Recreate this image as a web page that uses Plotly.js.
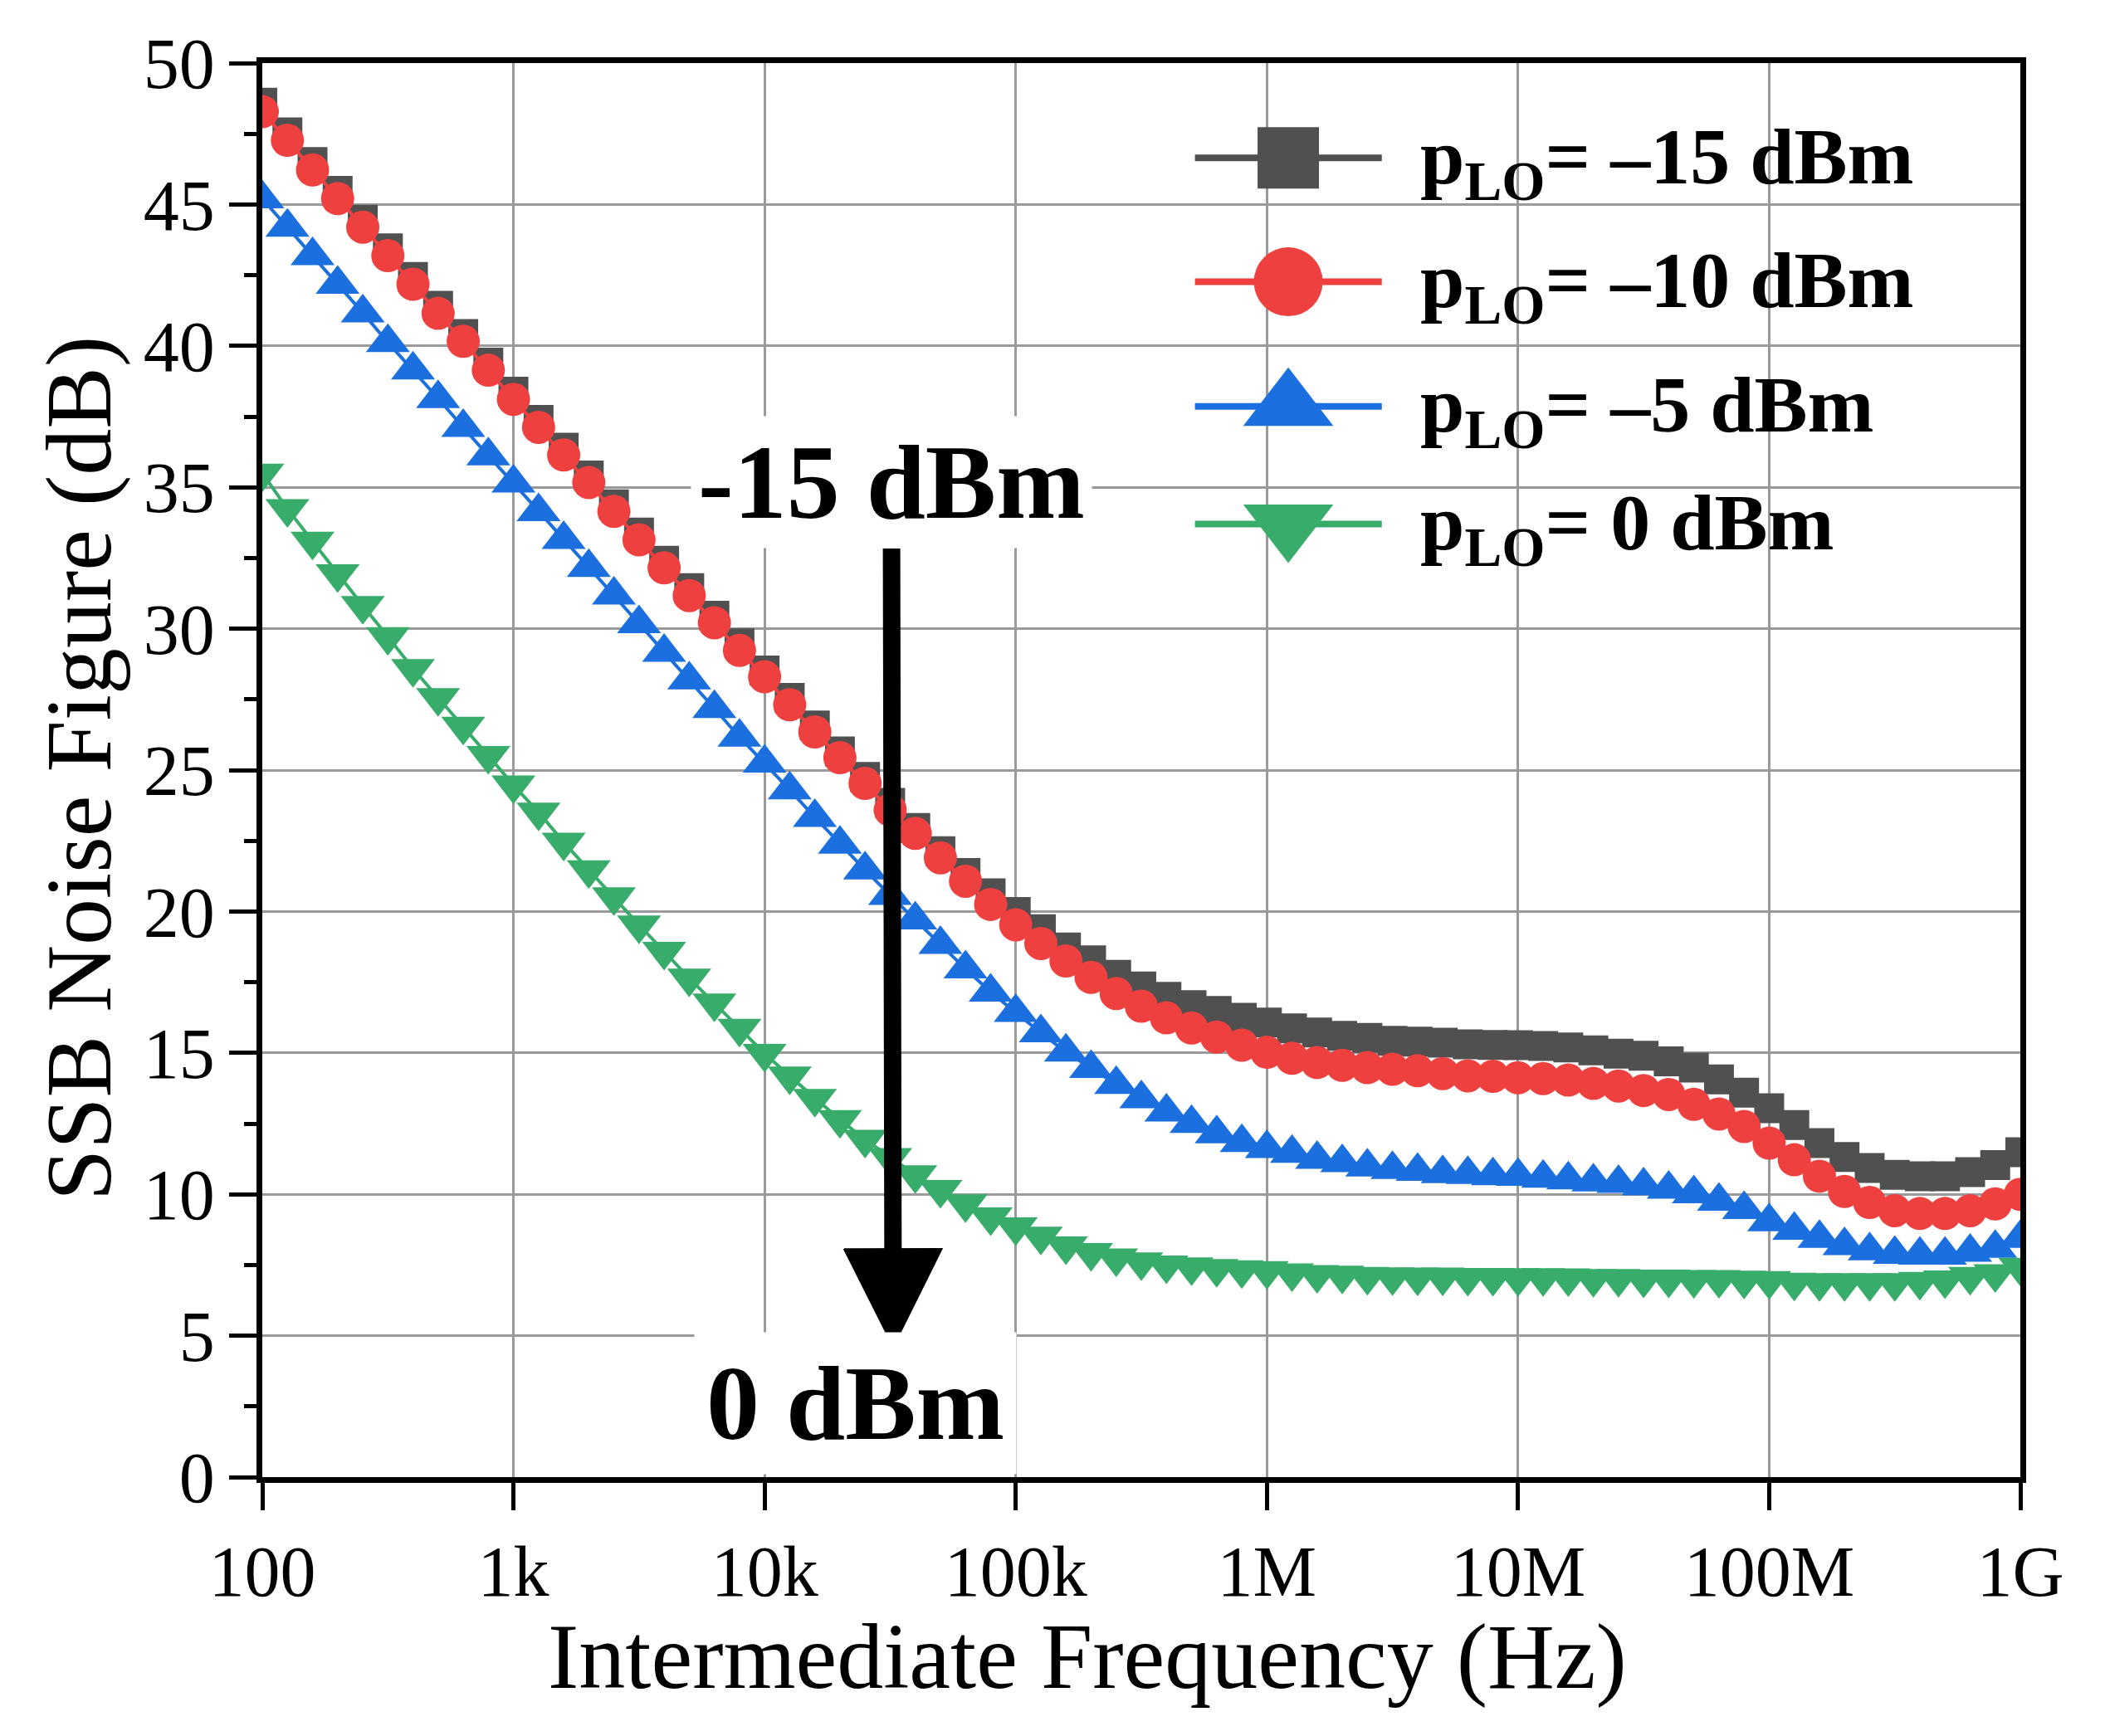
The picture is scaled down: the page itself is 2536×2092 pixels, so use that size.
<!DOCTYPE html>
<html>
<head>
<meta charset="utf-8">
<script src="https://cdn.plot.ly/plotly-3.0.1.min.js"></script>
<style>
  html, body { margin: 0; padding: 0; background: #fff; }
  #chart { width: 2536px; height: 2092px; }
</style>
</head>
<body>
<div id="chart"></div>
<script>
// intermediate frequency sweep (Hz), 10 points per decade
var freq = [
  100, 125.9, 158.5, 199.5, 251.2, 316.2, 398.1, 501.2, 631.0, 794.3,
  1000, 1259, 1585, 1995, 2512, 3162, 3981, 5012, 6310, 7943,
  1e4, 1.259e4, 1.585e4, 1.995e4, 2.512e4, 3.162e4, 3.981e4, 5.012e4, 6.310e4, 7.943e4,
  1e5, 1.259e5, 1.585e5, 1.995e5, 2.512e5, 3.162e5, 3.981e5, 5.012e5, 6.310e5, 7.943e5,
  1e6, 1.259e6, 1.585e6, 1.995e6, 2.512e6, 3.162e6, 3.981e6, 5.012e6, 6.310e6, 7.943e6,
  1e7, 1.259e7, 1.585e7, 1.995e7, 2.512e7, 3.162e7, 3.981e7, 5.012e7, 6.310e7, 7.943e7,
  1e8, 1.259e8, 1.585e8, 1.995e8, 2.512e8, 3.162e8, 3.981e8, 5.012e8, 6.310e8, 7.943e8,
  1e9
];

// SSB noise figure (dB) for each LO power
var nfLoM15 = [
  48.60, 47.55, 46.50, 45.48, 44.46, 43.45, 42.44, 41.42, 40.42, 39.41,
  38.38, 37.38, 36.40, 35.42, 34.40, 33.40, 32.40, 31.43, 30.46, 29.48,
  28.52, 27.55, 26.58, 25.66, 24.76, 23.84, 22.95, 22.13, 21.36, 20.64,
  19.98, 19.37, 18.73, 18.27, 17.76, 17.35, 16.98, 16.69, 16.48, 16.24,
  16.07, 15.87, 15.72, 15.60, 15.53, 15.43, 15.40, 15.36, 15.30, 15.28,
  15.27, 15.24, 15.19, 15.09, 14.97, 14.90, 14.70, 14.48, 14.06, 13.59,
  13.04, 12.45, 11.81, 11.32, 10.93, 10.69, 10.64, 10.64, 10.78, 11.03,
  11.49
];
var nfLoM10 = [
  48.28, 47.27, 46.22, 45.21, 44.20, 43.19, 42.18, 41.15, 40.16, 39.14,
  38.11, 37.12, 36.14, 35.17, 34.15, 33.14, 32.15, 31.17, 30.21, 29.23,
  28.30, 27.31, 26.35, 25.44, 24.53, 23.59, 22.76, 21.90, 21.07, 20.25,
  19.53, 18.87, 18.25, 17.67, 17.10, 16.65, 16.24, 15.88, 15.56, 15.27,
  15.02, 14.81, 14.66, 14.56, 14.48, 14.42, 14.37, 14.27, 14.19, 14.17,
  14.12, 14.09, 14.04, 13.92, 13.83, 13.67, 13.53, 13.18, 12.84, 12.40,
  11.81, 11.22, 10.64, 10.10, 9.71, 9.42, 9.32, 9.32, 9.42, 9.66,
  10.00
];
var nfLoM5 = [
  45.20, 44.20, 43.19, 42.18, 41.17, 40.12, 39.15, 38.14, 37.12, 36.11,
  35.15, 34.14, 33.16, 32.17, 31.19, 30.18, 29.17, 28.19, 27.18, 26.17,
  25.25, 24.30, 23.33, 22.38, 21.47, 20.57, 19.70, 18.84, 17.97, 17.15,
  16.43, 15.71, 15.03, 14.45, 13.89, 13.38, 12.91, 12.51, 12.14, 11.83,
  11.62, 11.45, 11.24, 11.12, 10.97, 10.88, 10.81, 10.73, 10.70, 10.66,
  10.64, 10.57, 10.51, 10.44, 10.39, 10.30, 10.18, 10.02, 9.76, 9.46,
  9.03, 8.73, 8.44, 8.19, 8.00, 7.88, 7.85, 7.85, 7.95, 8.09,
  8.44
];
var nfLo0 = [
  35.50, 34.24, 33.09, 31.94, 30.82, 29.72, 28.59, 27.56, 26.55, 25.51,
  24.47, 23.51, 22.45, 21.47, 20.52, 19.52, 18.59, 17.64, 16.76, 15.87,
  14.98, 14.18, 13.39, 12.64, 11.94, 11.30, 10.69, 10.17, 9.66, 9.20,
  8.85, 8.52, 8.17, 7.94, 7.75, 7.61, 7.50, 7.43, 7.37, 7.33,
  7.30, 7.22, 7.16, 7.14, 7.09, 7.08, 7.07, 7.07, 7.06, 7.06,
  7.05, 7.05, 7.04, 7.02, 7.02, 7.00, 7.00, 6.98, 6.98, 6.96,
  6.95, 6.89, 6.87, 6.87, 6.87, 6.87, 6.92, 6.97, 7.09, 7.19,
  7.42
];

var seriesNames = ["p<sub>LO</sub>= \u201315 dBm", "p<sub>LO</sub>= \u201310 dBm",
                   "p<sub>LO</sub>= \u20135 dBm", "p<sub>LO</sub>= 0 dBm"];
var seriesData = [nfLoM15, nfLoM10, nfLoM5, nfLo0];
var seriesColors = ["#505050", "#EF4040", "#1B6FDE", "#38AD6B"];
var seriesSymbols = ["square", "circle", "triangle-up", "triangle-down"];
var plotMarkerSize = [36, 40, 46, 46];
var legendMarkerSize = [74, 83, 94, 94];

var tickVals = [1e2, 1e3, 1e4, 1e5, 1e6, 1e7, 1e8, 1e9];
var tickText = ["100", "1k", "10k", "100k", "1M", "10M", "100M", "1G"];

var FONT = "'Liberation Serif', 'Times New Roman', Times, serif";

var traces = [];
for (var i = 0; i < seriesData.length; i++) {
    traces.push({
        x: freq,
        y: seriesData[i],
        type: "scatter",
        mode: "lines+markers",
        line: { color: seriesColors[i], width: 4 },
        marker: { symbol: seriesSymbols[i], size: plotMarkerSize[i],
                  color: seriesColors[i], opacity: 1, line: { width: 0 } },
        showlegend: false,
        hoverinfo: "skip"
    });
}

// hand-drawn legend on a hidden 0..1 overlay
var legLineX = [0.5305, 0.5836, 0.6368];
var legRowY = [0.9329, 0.8453, 0.7572, 0.6740];
var legTextX = 0.6577;
for (var i = 0; i < seriesData.length; i++) {
    traces.push({
        x: legLineX,
        y: [legRowY[i], legRowY[i], legRowY[i]],
        xaxis: "x2", yaxis: "y2",
        type: "scatter",
        mode: "lines+markers",
        line: { color: seriesColors[i], width: 8 },
        marker: { symbol: seriesSymbols[i], size: [0, legendMarkerSize[i], 0],
                  color: seriesColors[i], opacity: 1, line: { width: 0 } },
        showlegend: false,
        hoverinfo: "skip"
    });
}

var annotations = [];
for (var i = 0; i < seriesNames.length; i++) {
    annotations.push({
        xref: "paper", yref: "paper",
        x: legTextX, y: legRowY[i] - 0.003,
        xanchor: "left", yanchor: "middle",
        text: "<b>" + seriesNames[i] + "</b>",
        showarrow: false,
        font: { family: FONT, size: 96, color: "#000" }
    });
}

// -15 dBm label with the arrow down to the 0 dBm curve
annotations.push({
    xref: "x", yref: "y", axref: "x", ayref: "y",
    x: 4.512, y: 4.55, ax: 4.505, ay: 35.17,
    text: "<b>-15 dBm</b>",
    bgcolor: "#fff", borderpad: 8,
    font: { family: FONT, size: 128, color: "#000" },
    showarrow: true, arrowhead: 2, arrowsize: 1.15, arrowwidth: 21,
    arrowcolor: "#000"
});
annotations.push({
    xref: "x", yref: "y", x: 4.363, y: 2.62,
    text: "<b>0 dBm</b>", showarrow: false,
    bgcolor: "#fff", borderpad: 14,
    font: { family: FONT, size: 128, color: "#000" }
});

// axis titles
annotations.push({
    xref: "paper", yref: "paper", x: 0.4693, y: -0.127,
    xanchor: "center", yanchor: "middle",
    text: "Intermediate Frequency (Hz)", showarrow: false,
    font: { family: FONT, size: 112, color: "#000" }
});
annotations.push({
    xref: "paper", yref: "paper", x: -0.1043, y: 0.5012,
    xanchor: "center", yanchor: "middle", textangle: -90,
    text: "SSB Noise Figure (dB)", showarrow: false,
    font: { family: FONT, size: 112, color: "#000" }
});

var layout = {
    width: 2536,
    height: 2092,
    margin: { l: 316, r: 102, t: 76, b: 312, pad: 0 },
    paper_bgcolor: "#fff",
    plot_bgcolor: "#fff",
    showlegend: false,
    font: { family: FONT, size: 86, color: "#000" },
    xaxis: {
        type: "log",
        range: [2, 9],
        tickvals: tickVals,
        ticktext: tickText,
        ticks: "outside", ticklen: 33, tickwidth: 5, tickcolor: "#000",
        showline: true, linewidth: 7, linecolor: "#000", mirror: true,
        showgrid: true, gridcolor: "#9a9a9a", gridwidth: 3,
        zeroline: false,
        tickfont: { family: FONT, size: 86, color: "#000" }
    },
    yaxis: {
        range: [0, 50],
        tick0: 0, dtick: 5,
        ticks: "outside", ticklen: 33, tickwidth: 5, tickcolor: "#000",
        minor: { dtick: 2.5, ticks: "outside", ticklen: 15, tickwidth: 5,
                 tickcolor: "#000", showgrid: false },
        showline: true, linewidth: 7, linecolor: "#000", mirror: true,
        showgrid: true, gridcolor: "#9a9a9a", gridwidth: 3,
        zeroline: false,
        tickfont: { family: FONT, size: 86, color: "#000" }
    },
    xaxis2: { overlaying: "x", range: [0, 1], visible: false, fixedrange: true },
    yaxis2: { overlaying: "y", range: [0, 1], visible: false, fixedrange: true },
    shapes: [{
        type: "rect", xref: "paper", yref: "paper", layer: "between",
        x0: 0.5246, x1: 0.9476, y0: 0.6232, y1: 0.9789,
        fillcolor: "#fff", line: { width: 0 }
    }],
    annotations: annotations
};

Plotly.newPlot("chart", traces, layout, { staticPlot: true, displayModeBar: false });
</script>
</body>
</html>
